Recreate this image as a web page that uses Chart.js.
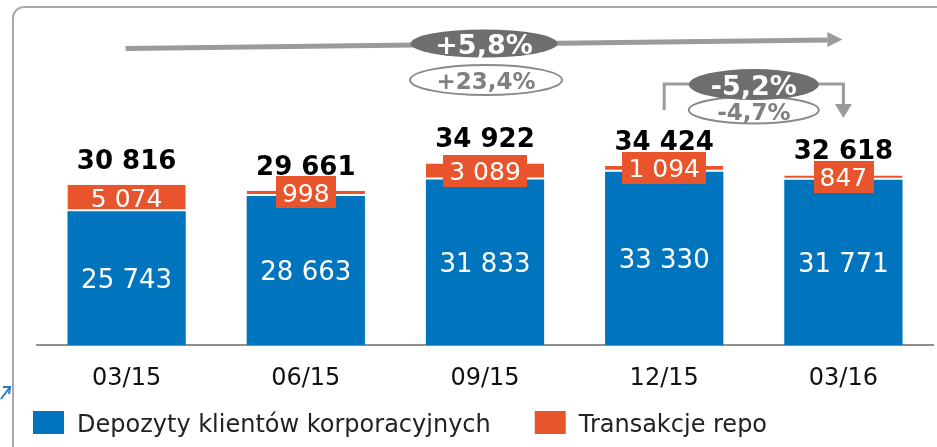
<!DOCTYPE html>
<html><head><meta charset="utf-8">
<script src="https://cdn.jsdelivr.net/npm/chart.js@4/dist/chart.umd.min.js"></script>
<style>html,body{margin:0;padding:0;background:#fff;overflow:hidden}#wrap{width:937px;height:447px;position:relative}</style>
</head><body><div id="wrap"><canvas id="c" width="937" height="447"></canvas></div>
<script>
const categories = ['03/15', '06/15', '09/15', '12/15', '03/16'];
const depozyty = [25743, 28663, 31833, 33330, 31771];
const repo = [5074, 998, 3089, 1094, 847];
const totals = [30816, 29661, 34922, 34424, 32618];
const seriesNames = ['Depozyty klientów korporacyjnych', 'Transakcje repo'];
const yearChange = ['+5,8%', '+23,4%'];
const quarterChange = ['-5,2%', '-4,7%'];

const BLUE = '#0075be', ORANGE = '#e8552c', DARK = '#6d6e70', LINE = '#9b9b9b';
const FONT = "'DejaVu Sans', Verdana, sans-serif";
const fmt = n => String(n).replace(/\B(?=(\d{3})+(?!\d))/g, ' ');

function ellipse(ctx, cx, cy, rx, ry, fill, stroke) {
  ctx.beginPath(); ctx.ellipse(cx, cy, rx, ry, 0, 0, Math.PI * 2);
  if (fill) { ctx.fillStyle = fill; ctx.fill(); }
  if (stroke) { ctx.strokeStyle = stroke; ctx.lineWidth = 2; ctx.stroke(); }
}
function tri(ctx, pts, color) {
  ctx.beginPath(); ctx.moveTo(pts[0][0], pts[0][1]);
  for (let i = 1; i < pts.length; i++) ctx.lineTo(pts[i][0], pts[i][1]);
  ctx.closePath(); ctx.fillStyle = color; ctx.fill();
}

const labelsPlugin = {
  id: 'labels',
  afterDatasetsDraw(chart) {
    const ctx = chart.ctx;
    const m0 = chart.getDatasetMeta(0), m1 = chart.getDatasetMeta(1);
    ctx.save();
    ctx.textAlign = 'center'; ctx.textBaseline = 'middle';
    m0.data.forEach((el, i) => {
      ctx.fillStyle = '#fff'; ctx.font = '26px ' + FONT;
      ctx.fillText(fmt(depozyty[i]), el.x, (el.y + el.base) / 2 + 3);
    });
    m1.data.forEach((el, i) => {
      const h = el.base - el.y;
      const cy = (el.y + el.base) / 2 - 1;
      ctx.font = '25px ' + FONT;
      const t = fmt(repo[i]);
      if (h < 20) {
        const w = ctx.measureText(t).width + 12;
        ctx.fillStyle = ORANGE;
        ctx.fillRect(Math.round(el.x - w / 2), Math.round(cy - 16), Math.round(w), 32);
      }
      ctx.fillStyle = '#fff';
      ctx.fillText(t, el.x, cy + 3);
      ctx.fillStyle = '#000'; ctx.font = 'bold 26px ' + FONT;
      ctx.fillText(fmt(totals[i]), el.x, el.y - 23);
    });
    ctx.restore();
  },
  afterDraw(chart) {
    const ctx = chart.ctx;
    const xs = chart.scales.x;
    const x0 = xs.getPixelForValue(0), x2 = xs.getPixelForValue(2);
    const x3 = xs.getPixelForValue(3), x4 = xs.getPixelForValue(4);
    ctx.save();
    // frame
    ctx.strokeStyle = '#a9a9a9'; ctx.lineWidth = 2;
    ctx.beginPath(); ctx.moveTo(13, 447); ctx.lineTo(13, 18);
    ctx.arcTo(13, 7, 24, 7, 11); ctx.lineTo(937, 7); ctx.stroke();
    // small blue mark
    ctx.strokeStyle = '#2a7fc0'; ctx.lineWidth = 2;
    ctx.beginPath(); ctx.moveTo(1, 399); ctx.lineTo(10, 387); ctx.stroke();
    ctx.beginPath(); ctx.moveTo(3, 387); ctx.lineTo(10, 387); ctx.lineTo(9, 394); ctx.stroke();
    // top arrow
    ctx.strokeStyle = LINE; ctx.lineWidth = 5;
    ctx.beginPath(); ctx.moveTo(x0 - 1, 48.5); ctx.lineTo(x4 - 16, 40); ctx.stroke();
    tri(ctx, [[x4 - 16, 32], [x4 - 1, 39.5], [x4 - 16, 47]], LINE);
    // bracket arrow
    ctx.lineWidth = 3; ctx.strokeStyle = LINE;
    ctx.beginPath(); ctx.moveTo(x3, 110); ctx.lineTo(x3, 84); ctx.lineTo(x4, 84); ctx.lineTo(x4, 106); ctx.stroke();
    tri(ctx, [[x4 - 8.5, 104], [x4 + 8.5, 104], [x4, 118]], LINE);
    // ovals
    ellipse(ctx, x2 + 1, 80, 76, 15, '#fff', '#8a8a8a');
    ellipse(ctx, x2 - 1, 43.5, 73.5, 14, DARK);
    const xm = (x3 + x4) / 2;
    ellipse(ctx, xm, 110, 65, 13.5, '#fff', '#8a8a8a');
    ellipse(ctx, xm, 84.5, 65, 15.5, DARK);
    ctx.textAlign = 'center'; ctx.textBaseline = 'middle';
    ctx.fillStyle = '#fff'; ctx.font = 'bold 27px ' + FONT;
    ctx.fillText(yearChange[0], x2 - 1, 47);
    ctx.fillText(quarterChange[0], xm, 88);
    ctx.fillStyle = '#7f7f7f'; ctx.font = 'bold 23px ' + FONT;
    ctx.fillText(yearChange[1], x2 + 1, 83);
    ctx.fillText(quarterChange[1], xm, 114);
    // legend
    ctx.textAlign = 'left'; ctx.textBaseline = 'alphabetic';
    ctx.font = '24px ' + FONT;
    let lx = 33;
    chart.data.datasets.forEach(ds => {
      ctx.fillStyle = ds.backgroundColor;
      ctx.fillRect(lx, 411, 31, 23);
      ctx.fillStyle = '#222';
      ctx.fillText(ds.label, lx + 44, 432);
      lx = lx + 44 + ctx.measureText(ds.label).width + 44;
    });
    ctx.restore();
  }
};

new Chart(document.getElementById('c'), {
  type: 'bar',
  data: {
    labels: categories,
    datasets: [
      { label: seriesNames[0], data: depozyty, backgroundColor: BLUE, borderWidth: 0 },
      { label: seriesNames[1], data: repo, backgroundColor: ORANGE, borderColor: '#ffffff',
        borderWidth: { top: 0, left: 0, right: 0, bottom: 2 }, borderSkipped: false }
    ]
  },
  options: {
    responsive: false, devicePixelRatio: 1, animation: false,
    layout: { padding: { top: 85, left: 37, right: 4, bottom: 35 } },
    datasets: { bar: { barPercentage: 0.66, categoryPercentage: 1.0 } },
    scales: {
      x: { stacked: true, grid: { display: false, drawTicks: false },
           border: { display: true, color: '#8f8f8f', width: 2 },
           ticks: { color: '#111', font: { family: FONT, size: 24 }, padding: 19 } },
      y: { stacked: true, display: false, min: 0, max: 50000 }
    },
    plugins: { legend: { display: false }, tooltip: { enabled: false } }
  },
  plugins: [labelsPlugin]
});
</script></body></html>
